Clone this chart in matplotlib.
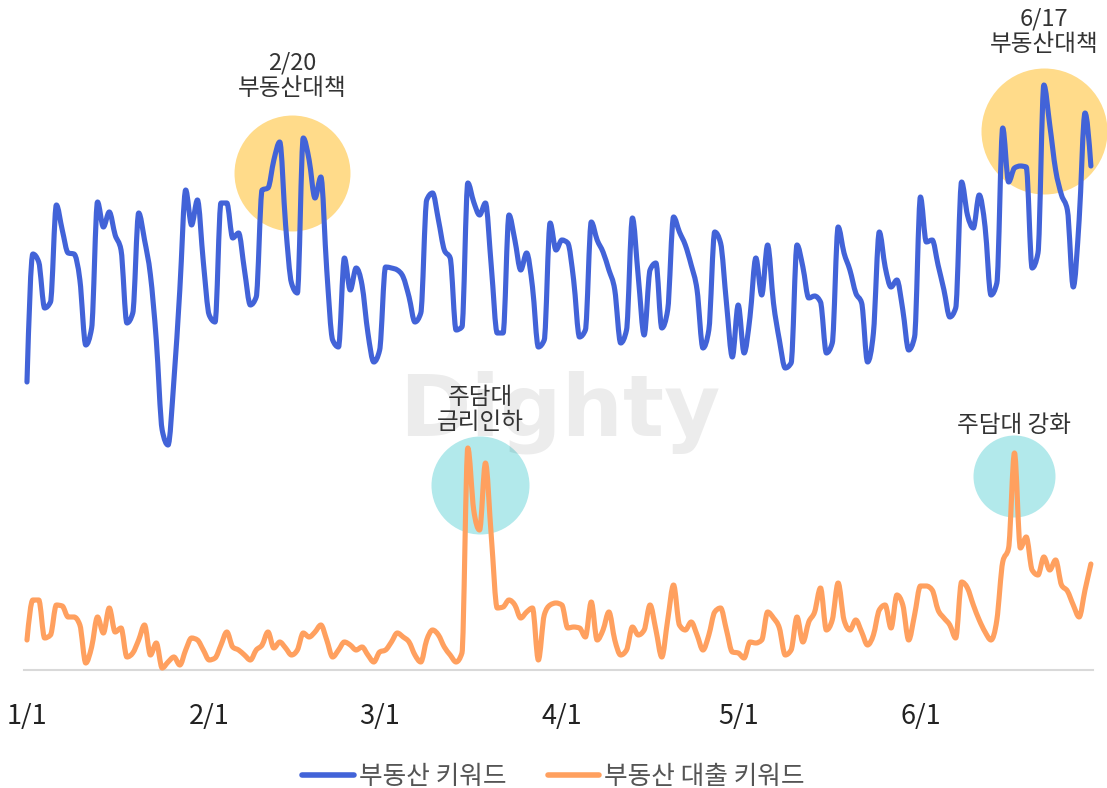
import numpy as np
import pandas as pd
import matplotlib
matplotlib.use('Agg')
import matplotlib.pyplot as plt
import matplotlib.dates as mdates
from matplotlib.path import Path
from matplotlib.patches import PathPatch
from matplotlib.lines import Line2D

plt.rcParams['font.family'] = ['Noto Sans CJK KR', 'DejaVu Sans']

# daily search volume (relative units), 2020-01-01 .. 2020-06-30
dates = pd.date_range('2020-01-01', '2020-06-30', freq='D')

realestate = [
    288, 416, 408, 362, 368, 465, 440, 417, 416, 390,
    325, 342, 468, 443, 458, 435, 420, 347, 357, 457,
    430, 395, 330, 240, 225, 290, 380, 480, 445, 470,
    408, 355, 348, 467, 467, 432, 437, 400, 365, 373,
    480, 482, 510, 528, 445, 387, 377, 532, 510, 472,
    493, 400, 330, 323, 412, 380, 402, 385, 337, 308,
    320, 403, 402, 400, 393, 373, 348, 357, 470, 477,
    450, 420, 412, 340, 343, 487, 468, 455, 467, 403,
    337, 337, 455, 430, 400, 417, 383, 323, 330, 447,
    420, 430, 427, 390, 333, 340, 448, 430, 418, 400,
    380, 327, 340, 452, 393, 335, 400, 407, 342, 360,
    453, 438, 425, 405, 380, 322, 340, 438, 427, 367,
    313, 365, 317, 353, 412, 375, 425, 367, 330, 302,
    307, 425, 403, 372, 374, 368, 317, 327, 443, 417,
    400, 377, 367, 308, 337, 438, 403, 383, 390, 360,
    320, 333, 473, 428, 430, 405, 380, 353, 362, 488,
    455, 442, 475, 443, 375, 387, 542, 488, 502, 504,
    503, 402, 417, 585, 545, 500, 475, 460, 383, 450,
    557, 504,
]

loan = [
    30, 70, 70, 32, 35, 65, 64, 53, 53, 45,
    7, 23, 53, 37, 62, 38, 42, 13, 17, 30,
    45, 15, 27, 2, 8, 13, 5, 20, 32, 30,
    20, 10, 12, 25, 38, 23, 20, 15, 10, 20,
    25, 38, 22, 28, 22, 15, 20, 37, 33, 38,
    45, 30, 13, 20, 28, 25, 20, 23, 15, 8,
    18, 20, 28, 37, 33, 28, 15, 8, 30, 40,
    35, 23, 15, 8, 17, 222, 160, 140, 207, 133,
    62, 63, 70, 65, 52, 58, 62, 10, 55, 65,
    67, 65, 42, 43, 42, 33, 68, 30, 40, 58,
    30, 15, 20, 43, 35, 40, 65, 40, 13, 50,
    85, 45, 40, 48, 35, 20, 35, 58, 62, 40,
    18, 17, 12, 28, 27, 30, 58, 52, 42, 15,
    20, 53, 28, 48, 58, 82, 40, 50, 87, 50,
    40, 50, 38, 25, 35, 60, 65, 42, 75, 65,
    30, 55, 84, 84, 80, 60, 52, 45, 32, 88,
    82, 65, 50, 38, 30, 50, 108, 122, 217, 122,
    133, 100, 95, 113, 100, 110, 85, 79, 65, 53,
    80, 106,
]

tick_dates = ['2020-01-01', '2020-02-01', '2020-03-01', '2020-04-01', '2020-05-01', '2020-06-01']
tick_labels = ['1/1', '2/1', '3/1', '4/1', '5/1', '6/1']
legend_labels = ['부동산 키워드', '부동산 대출 키워드']

# events: (day offset from 1/1, circle centre value, marker size, label, label height)
policy_events = [(45.1, 497, 6970, '2/20\n부동산대책', 594),
                 (173.0, 539, 8230, '6/17\n부동산대책', 638)]
loan_events = [(77.1, 185, 4980, '주담대\n금리인하', 260),
               (167.9, 194, 3485, '주담대 강화', 245)]

BLUE = '#4263d8'
ORANGE = '#ffa05f'

start = dates[0]
def day(d):
    return start + pd.Timedelta(days=d)


def smooth_path(x, y):
    # monotone cubic (like d3 curveMonotoneX) drawn as bezier segments
    x = np.asarray(x, float)
    y = np.asarray(y, float)
    h = np.diff(x)
    s = np.diff(y) / h
    t = np.zeros_like(y)
    for k in range(1, len(y) - 1):
        s0, s1 = s[k - 1], s[k]
        p = (s0 * h[k] + s1 * h[k - 1]) / (h[k - 1] + h[k])
        t[k] = (np.sign(s0) + np.sign(s1)) * min(abs(s0), abs(s1), 0.5 * abs(p))
    t[0] = (3 * s[0] - t[1]) / 2
    t[-1] = (3 * s[-1] - t[-2]) / 2
    verts = [(x[0], y[0])]
    codes = [Path.MOVETO]
    for k in range(len(x) - 1):
        dx = h[k] / 3
        verts += [(x[k] + dx, y[k] + t[k] * dx),
                  (x[k + 1] - dx, y[k + 1] - t[k + 1] * dx),
                  (x[k + 1], y[k + 1])]
        codes += [Path.CURVE4] * 3
    return Path(verts, codes)


fig = plt.figure(figsize=(11.07, 7.88), dpi=100)
ax = fig.add_axes([0, 118 / 788, 1, 670 / 788])
ax.set_xlim(day(-4.59), day(183.74))
ax.set_ylim(0, 670)

# watermark
ax.text(day(90.7), 235, 'Dighty', fontsize=62, fontweight='bold', family='DejaVu Sans',
        color='black', alpha=0.075, ha='center', va='baseline', zorder=2)

for d, v, s, label, ty in policy_events:
    ax.scatter([day(d)], [v], s=s, color='#ffdb8a', linewidths=0, zorder=1, clip_on=False)
    ax.text(day(d), ty, label, ha='center', va='center', fontsize=17, color='#333333',
            linespacing=1.15, zorder=5)
for d, v, s, label, ty in loan_events:
    ax.scatter([day(d)], [v], s=s, color='#b2e9eb', linewidths=0, zorder=1, clip_on=False)
    ax.text(day(d), ty, label, ha='center', va='center', fontsize=17, color='#333333',
            linespacing=1.15, zorder=5)

ax.plot([day(-0.5), day(181.3)], [0, 0], color='#d9d9d9', lw=1.5, zorder=2, clip_on=False)

xnum = mdates.date2num(dates.to_pydatetime())
for vals, col in [(realestate, BLUE), (loan, ORANGE)]:
    patch = PathPatch(smooth_path(xnum, vals), fill=False, edgecolor=col, lw=3.7,
                      joinstyle='round', capstyle='round', zorder=3, clip_on=False)
    ax.add_patch(patch)

for sp in ax.spines.values():
    sp.set_visible(False)
ax.set_yticks([])
ax.set_xticks(pd.to_datetime(tick_dates))
ax.set_xticklabels(tick_labels)
ax.tick_params(axis='x', length=0, pad=24, labelsize=19.5, labelcolor='#222222')

handles = [Line2D([], [], color=BLUE, lw=4, solid_capstyle='round'),
           Line2D([], [], color=ORANGE, lw=4, solid_capstyle='round')]
leg = fig.legend(handles, legend_labels, loc='lower center', bbox_to_anchor=(0.5, -0.032),
                 ncol=2, frameon=False, fontsize=18.5, handlelength=2.0,
                 handletextpad=0.2, columnspacing=1.6)
for t in leg.get_texts():
    t.set_color('#555555')

fig.savefig('out.png', dpi=100)
